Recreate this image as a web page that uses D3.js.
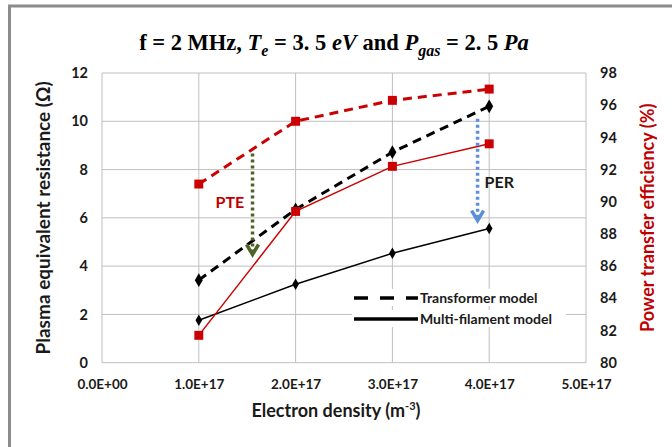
<!DOCTYPE html>
<html>
<head>
<meta charset="utf-8">
<script src="https://cdn.jsdelivr.net/npm/d3@7"></script>
<style>
  body { margin: 0; background: #fff; }
  svg text { font-family: Lato, "Open Sans", sans-serif; }
</style>
</head>
<body>
<svg id="chart" width="672" height="447"></svg>
<script>
// electron density (m^-3)
var density = [1e17, 2e17, 3e17, 4e17];
// plasma equivalent resistance (ohm)
var resTransformer = [3.42, 6.35, 8.72, 10.62];
var resMultiFil = [1.76, 3.25, 4.53, 5.56];
// power transfer efficiency (%)
var pteTransformer = [91.1, 95.0, 96.3, 97.0];
var pteMultiFil = [81.7, 89.4, 92.2, 93.6];

var xTicks = [0, 1e17, 2e17, 3e17, 4e17, 5e17];
var leftTicks = [0, 2, 4, 6, 8, 10, 12];
var rightTicks = [80, 82, 84, 86, 88, 90, 92, 94, 96, 98];

var svg = d3.select('#chart');

var plotL = 102, plotR = 586, plotT = 73, plotB = 362.7;

var x = d3.scaleLinear().domain([0, 5e17]).range([plotL, plotR]);
var yL = d3.scaleLinear().domain([0, 12]).range([plotB, plotT]);
var yR = d3.scaleLinear().domain([80, 98]).range([plotB, plotT]);

// outer frame
svg.append('rect')
    .attr('x', 9.5).attr('y', 6)
    .attr('width', 700).attr('height', 460)
    .style('fill', 'none')
    .style('stroke', '#8c8c8c')
    .style('stroke-width', 3);

// title
var title = svg.append('text')
    .attr('x', 334).attr('y', 50)
    .attr('text-anchor', 'middle')
    .style('font-family', '"Liberation Serif", serif')
    .style('font-size', '22.5px')
    .style('font-weight', 'bold');
title.append('tspan').text('f  = 2 MHz, ');
title.append('tspan').style('font-style', 'italic').text('T');
title.append('tspan').style('font-style', 'italic').style('font-size', '16px').attr('dy', 6).text('e');
title.append('tspan').attr('dy', -6).text(' = 3. 5 ');
title.append('tspan').style('font-style', 'italic').text('eV');
title.append('tspan').text(' and ');
title.append('tspan').style('font-style', 'italic').text('P');
title.append('tspan').style('font-style', 'italic').style('font-size', '16px').attr('dy', 6).text('gas');
title.append('tspan').attr('dy', -6).text(' = 2. 5 ');
title.append('tspan').style('font-style', 'italic').text('Pa');

// grid
var grid = svg.append('g');
grid.selectAll('.gx')
    .data(xTicks)
    .enter()
    .append('line')
    .attr('x1', function(d){ return x(d); })
    .attr('x2', function(d){ return x(d); })
    .attr('y1', plotT).attr('y2', plotB)
    .style('stroke', '#bfbfbf')
    .style('stroke-width', 1);
grid.selectAll('.gy')
    .data(leftTicks)
    .enter()
    .append('line')
    .attr('x1', plotL).attr('x2', plotR)
    .attr('y1', function(d){ return yL(d); })
    .attr('y2', function(d){ return yL(d); })
    .style('stroke', '#bfbfbf')
    .style('stroke-width', 1);

// axes
var xAxis = svg.append('g')
    .attr('transform', 'translate(0,' + plotB + ')')
    .call(d3.axisBottom(x).tickValues(xTicks).tickSize(0).tickPadding(14)
        .tickFormat(function(d){
            var e = d === 0 ? 0 : Math.floor(Math.log10(d));
            var m = d / Math.pow(10, e);
            return m.toFixed(1) + 'E+' + (e < 10 ? '0' + e : e);
        }));
var yAxisL = svg.append('g')
    .attr('transform', 'translate(' + plotL + ',0)')
    .call(d3.axisLeft(yL).tickValues(leftTicks).tickSize(0).tickPadding(14));
var yAxisR = svg.append('g')
    .attr('transform', 'translate(' + plotR + ',0)')
    .call(d3.axisRight(yR).tickValues(rightTicks).tickSize(0).tickPadding(14));

[xAxis, yAxisL, yAxisR].forEach(function(a){
    a.select('.domain').remove();
    a.selectAll('text')
        .style('font-family', 'Lato, sans-serif')
        .style('font-size', '13.5px')
        .style('font-weight', 'bold')
        .style('fill', '#1a1a1a');
});
yAxisL.selectAll('text').style('font-size', '14.5px');
yAxisR.selectAll('text').style('font-size', '14.5px');
xAxis.selectAll('text').attr('dy', '0.9em');

// axis titles
svg.append('text')
    .attr('transform', 'translate(50,' + ((plotT + plotB) / 2) + ') rotate(-90)')
    .attr('text-anchor', 'middle')
    .style('font-size', '19px')
    .style('font-weight', 'bold')
    .style('fill', '#1a1a1a')
    .text('Plasma equivalent resistance  (\u03A9)');

svg.append('text')
    .attr('transform', 'translate(654,' + ((plotT + plotB) / 2) + ') rotate(-90)')
    .attr('text-anchor', 'middle')
    .style('font-size', '18px')
    .style('font-weight', 'bold')
    .style('fill', '#c00000')
    .text('Power transfer efficiency (%)');

var xt = svg.append('text')
    .attr('x', (plotL + plotR) / 2 - 8).attr('y', 417)
    .attr('text-anchor', 'middle')
    .style('font-size', '18px')
    .style('font-weight', 'bold')
    .style('fill', '#1a1a1a');
xt.append('tspan').text('Electron density (m');
xt.append('tspan').attr('dy', -7).style('font-size', '11px').text('-3');
xt.append('tspan').attr('dy', 7).text(')');

// series
var series = [
    { vals: resMultiFil, y: yL, color: '#000', dash: null, width: 1.5, sym: d3.symbolDiamond, size: 38 },
    { vals: resTransformer, y: yL, color: '#000', dash: '9,6', width: 3, sym: d3.symbolDiamond, size: 55 },
    { vals: pteMultiFil, y: yR, color: '#cc0000', dash: null, width: 1.5, sym: d3.symbolSquare, size: 80 },
    { vals: pteTransformer, y: yR, color: '#cc0000', dash: '9,6', width: 3, sym: d3.symbolSquare, size: 80 }
];

series.forEach(function(s){
    var line = d3.line()
        .x(function(d, i){ return x(density[i]); })
        .y(function(d){ return s.y(d); });
    svg.append('path')
        .datum(s.vals)
        .attr('d', line)
        .style('fill', 'none')
        .style('stroke', s.color)
        .style('stroke-width', s.width)
        .style('stroke-dasharray', s.dash);
    svg.selectAll(null)
        .data(s.vals)
        .enter()
        .append('path')
        .attr('d', d3.symbol().type(s.sym).size(s.size))
        .attr('transform', function(d, i){
            return 'translate(' + x(density[i]) + ',' + s.y(d) + ')';
        })
        .style('fill', s.color);
});

// annotations (data coordinates)
var pteArrow = { x: 1.555e17, from: 93.0, to: 86.6 };
var perArrow = { x: 3.88e17, from: 10.1, to: 5.8 };

function arrow(x0, y0, y1, color) {
    svg.append('line')
        .attr('x1', x0).attr('x2', x0)
        .attr('y1', y0).attr('y2', y1 - 4)
        .style('stroke', color)
        .style('stroke-width', 3.5)
        .style('stroke-dasharray', '3,3');
    svg.append('path')
        .attr('d', 'M' + (x0 - 6) + ',' + (y1 - 12) + 'L' + x0 + ',' + (y1 - 2) + 'L' + (x0 + 6) + ',' + (y1 - 12))
        .style('fill', 'none')
        .style('stroke', color)
        .style('stroke-width', 3.5);
}
arrow(x(pteArrow.x), yR(pteArrow.from), yR(pteArrow.to), '#4f6228');
arrow(x(perArrow.x), yL(perArrow.from), yL(perArrow.to), '#5b8fd9');

svg.append('text')
    .attr('x', x(pteArrow.x) - 37).attr('y', yR(89.6))
    .style('font-size', '16px')
    .style('font-weight', 'bold')
    .style('fill', '#c00000')
    .text('PTE');
svg.append('text')
    .attr('x', x(perArrow.x) + 7).attr('y', yL(7.25))
    .style('font-size', '16px')
    .style('font-weight', 'bold')
    .style('fill', '#1a1a1a')
    .text('PER');

// legend
var legend = [
    { label: 'Transformer model', dash: '14,12', y: 298 },
    { label: 'Multi-filament model', dash: null, y: 319 }
];
var lg = svg.append('g');
legend.forEach(function(l){
    lg.append('rect')
        .attr('x', 352).attr('y', l.y - 9)
        .attr('width', 214).attr('height', 17)
        .style('fill', '#fff');
    lg.append('line')
        .attr('x1', 354).attr('x2', 418)
        .attr('y1', l.y).attr('y2', l.y)
        .style('stroke', '#000')
        .style('stroke-width', 3.5)
        .style('stroke-dasharray', l.dash);
    lg.append('text')
        .attr('x', 420).attr('y', l.y + 5)
        .style('font-size', '14px')
        .style('font-weight', 'bold')
        .style('fill', '#1a1a1a')
        .text(l.label);
});
</script>
</body>
</html>
